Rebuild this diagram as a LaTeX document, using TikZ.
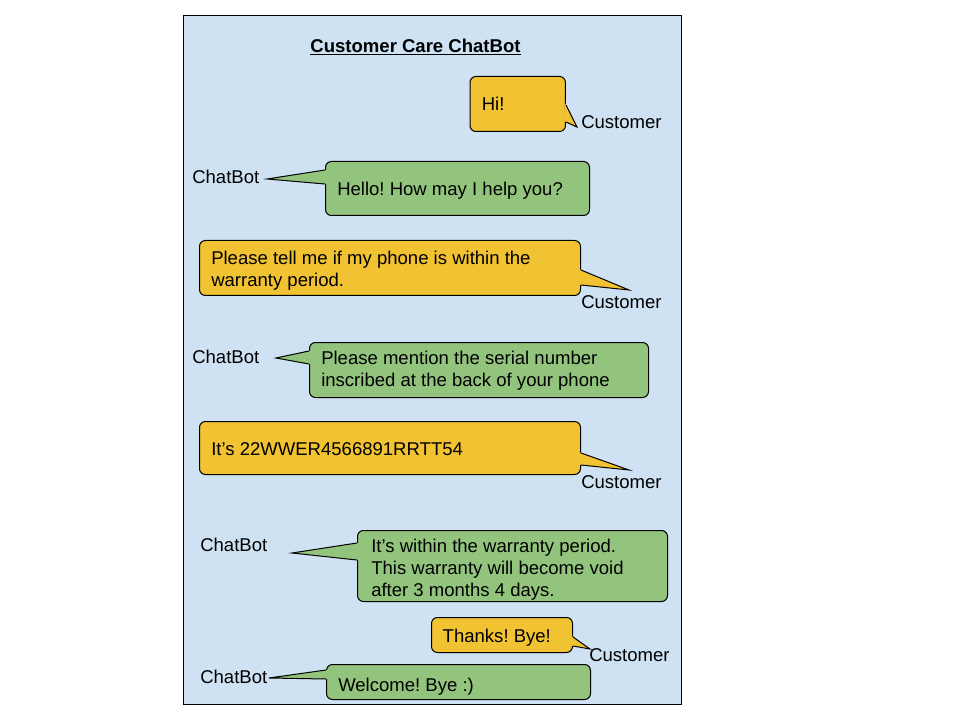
\documentclass[tikz,border=0pt]{standalone}
\usepackage{fontspec}
\setmainfont{Liberation Sans}
\usetikzlibrary{calc}
\definecolor{panelblue}{HTML}{CFE2F3}
\definecolor{msgorange}{HTML}{F1C232}
\definecolor{msggreen}{HTML}{93C47D}
\frenchspacing
\newcommand\speechtail[4]{%
  \fill[#1] ($(#2)!-1.5pt!(#3)$) -- (#3) -- ($(#4)!-1.5pt!(#3)$) -- cycle;
  \draw[line width=0.75pt, line join=miter] (#2) -- (#3) -- (#4);
}
\begin{document}
\begin{tikzpicture}[x=0.75pt,y=-0.75pt,
  every node/.style={font=\fontsize{13.9pt}{16.5pt}\selectfont\frenchspacing},
  bubble/.style={draw=black, line width=0.75pt, rounded corners=4.5pt,
    anchor=north west, inner sep=0pt},
  custbubble/.style={bubble, fill=msgorange},
  botbubble/.style={bubble, fill=msggreen},
  msgtext/.style={anchor=west, align=left, inner sep=0pt},
  speaker/.style={anchor=west, inner sep=0pt},
  titlestyle/.style={font=\fontsize{13.9pt}{16.5pt}\selectfont\bfseries, inner sep=0pt}
]
\useasboundingbox (0,0) rectangle (960,720);
\fill[white] (0,0) rectangle (960,720);
% panel
\draw[fill=panelblue, line width=0.75pt] (183,16) rectangle (681,704);
\node[titlestyle] (title) at (415.5,47) {\underline{Customer Care ChatBot}};

% 1
\node[custbubble, minimum width=71.6pt, minimum height=41.25pt] (b1) at (469.5,76) {};
\node[msgtext] (m1) at ([xshift=9pt] b1.west) {Hi!};
\node[speaker] (s1) at (581,122) {Customer};
\coordinate (p1) at (577,127);
\speechtail{msgorange}{b1.east |- 0,105}{p1}{b1.east |- 0,122}

% 2
\node[botbubble, minimum width=198pt, minimum height=40.5pt] (b2) at (325,161) {};
\node[msgtext] (m2) at ([xshift=9pt,yshift=-1.5pt] b2.west) {Hello! How may I help you?};
\node[speaker] (s2) at (192,177) {ChatBot};
\coordinate (p2) at (267,179);
\speechtail{msggreen}{b2.west |- 0,170}{p2}{b2.west |- 0,184}

% 3
\node[custbubble, minimum width=285.75pt, minimum height=41.25pt] (b3) at (199,240) {};
\node[msgtext] (m3) at ([xshift=9pt,yshift=-2.25pt] b3.west) {Please tell me if my phone is within the\\warranty period.};
\node[speaker] (s3) at (581,302) {Customer};
\coordinate (p3) at (629,290);
\speechtail{msgorange}{b3.east |- 0,270}{p3}{b3.east |- 0,285}

% 4
\node[botbubble, minimum width=254.25pt, minimum height=41.25pt] (b4) at (309,342) {};
\node[msgtext] (m4) at ([xshift=9pt,yshift=-0.75pt] b4.west) {Please mention the serial number\\inscribed at the back of your phone};
\node[speaker] (s4) at (192,357) {ChatBot};
\coordinate (p4) at (276,358);
\speechtail{msggreen}{b4.west |- 0,351}{p4}{b4.west |- 0,364}

% 5
\node[custbubble, minimum width=285.75pt, minimum height=39.75pt] (b5) at (199,421) {};
\node[msgtext] (m5) at ([xshift=9pt,yshift=-0.75pt] b5.west) {It’s 22WWER4566891RRTT54};
\node[speaker] (s5) at (581,482) {Customer};
\coordinate (p5) at (629,470);
\speechtail{msgorange}{b5.east |- 0,453}{p5}{b5.east |- 0,465}

% 6
\node[botbubble, minimum width=232.5pt, minimum height=53.25pt] (b6) at (357,530) {};
\node[msgtext] (m6) at ([xshift=10.5pt,yshift=-3pt] b6.west) {It’s within the warranty period.\\This warranty will become void\\after 3 months 4 days.};
\node[speaker] (s6) at (200,545) {ChatBot};
\coordinate (p6) at (292,553);
\speechtail{msggreen}{b6.west |- 0,543}{p6}{b6.west |- 0,560}

% 7
\node[custbubble, minimum width=105.75pt, minimum height=26.25pt] (b7) at (431,617) {};
\node[msgtext] (m7) at ([xshift=8.6pt,yshift=-2.25pt] b7.west) {Thanks! Bye!};
\node[speaker] (s7) at (589,655) {Customer};
\coordinate (p7) at (590,649);
\speechtail{msgorange}{b7.east |- 0,637}{p7}{b7.east |- 0,646}

% 8
\node[botbubble, minimum width=198pt, minimum height=26.25pt] (b8) at (326,664) {};
\node[msgtext] (m8) at ([xshift=9pt,yshift=-3.5pt] b8.west) {Welcome! Bye :)};
\node[speaker] (s8) at (200,677) {ChatBot};
\coordinate (p8) at (269,678);
\speechtail{msggreen}{b8.west |- 0,670}{p8}{b8.west |- 0,679}
\end{tikzpicture}
\end{document}
